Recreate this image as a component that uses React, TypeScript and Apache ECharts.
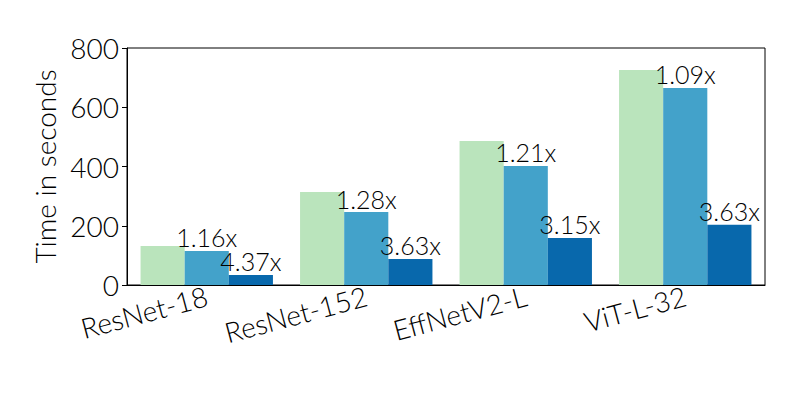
import { useEffect, useRef } from 'react';
import * as echarts from 'echarts';

const categories = ['ResNet-18', 'ResNet-152', 'EffNetV2-L', 'ViT-L-32'];
const baseline = [132, 314, 486, 726];
const mid = [115, 246, 402, 665];
const fast = [34, 88, 159, 203];
const midLabels = ['1.16x', '1.28x', '1.21x', '1.09x'];
const fastLabels = ['4.37x', '3.63x', '3.15x', '3.63x'];
const yTicks = [0, 200, 400, 600, 800];

const font = 'Lato, "DejaVu Sans", sans-serif';

export default function App() {
  const chartRef = useRef<HTMLDivElement>(null);

  useEffect(() => {
    if (!chartRef.current) return;
    const chart = echarts.init(chartRef.current, undefined, { renderer: 'svg' });

    const label = (texts: string[]) => ({
      show: true,
      position: 'top',
      distance: 1,
      color: '#000',
      fontSize: 25,
      fontWeight: 300,
      fontFamily: font,
      formatter: (p: any) => texts[p.dataIndex],
    });

    chart.setOption({
      animation: false,
      grid: { left: 119, right: 27, top: 40, bottom: 107, show: true, borderColor: '#000', borderWidth: 1 },
      xAxis: {
        type: 'category',
        data: categories,
        axisLine: { lineStyle: { color: '#000' } },
        axisTick: { alignWithLabel: true, length: 5, lineStyle: { color: '#000' } },
        axisLabel: { rotate: 15, color: '#000', fontSize: 28, fontWeight: 300, fontFamily: font, margin: 10 },
      },
      yAxis: {
        type: 'value',
        min: 0,
        max: 800,
        interval: 200,
        name: 'Time in seconds',
        nameLocation: 'middle',
        nameGap: 68,
        nameTextStyle: { color: '#000', fontSize: 28, fontWeight: 300, fontFamily: font },
        axisLine: { show: true, lineStyle: { color: '#000' } },
        axisTick: { show: true, length: 5, lineStyle: { color: '#000' } },
        splitLine: { show: false },
        axisLabel: {
          color: '#000', fontSize: 28, fontWeight: 300, fontFamily: font,
          formatter: (v: number) => (yTicks.includes(v) ? String(v) : ''),
        },
      },
      series: [
        { type: 'bar', data: baseline, barGap: '0%', barCategoryGap: '17%', itemStyle: { color: '#bae4bc' } },
        { type: 'bar', data: mid, itemStyle: { color: '#43a2ca' }, label: label(midLabels) },
        { type: 'bar', data: fast, itemStyle: { color: '#0868ac' }, label: label(fastLabels) },
      ],
    });

    return () => chart.dispose();
  }, []);

  return <div ref={chartRef} style={{ width: 784, height: 384 }} />;
}
